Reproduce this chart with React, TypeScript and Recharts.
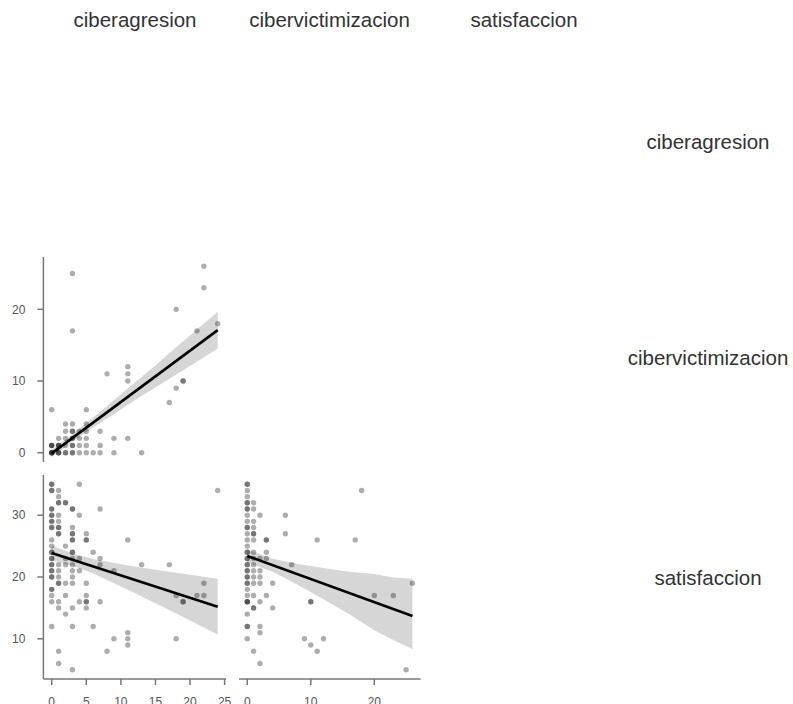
import React from 'react';
import { ComposedChart, Scatter, Line, Area, XAxis, YAxis } from 'recharts';

const FONT = '"Liberation Sans", Arial, Helvetica, sans-serif';

// variable names
const variableNames = ['ciberagresion', 'cibervictimizacion', 'satisfaccion'];

// tick labels
const agresionTicks = [0, 5, 10, 15, 20, 25];
const victimXTicks = [0, 10, 20];
const victimYTicks = [0, 10, 20];
const satisfTicks = [10, 20, 30];

// axis ranges (data range + 5% padding)
const agresionDomain: [number, number] = [-1.2, 25.2];
const victimDomain: [number, number] = [-1.3, 27.3];
const satisfDomain: [number, number] = [3.5, 36.5];

// ciberagresion (x) vs cibervictimizacion (y)
const agrVictPoints: [number, number][] = [
  [0, 0], [0, 0], [0, 0], [0, 0], [1, 0], [1, 0], [1, 0], [2, 0], [2, 0], [3, 0], [3, 0], [4, 0], [5, 0], [6, 0], [7, 0], [9, 0], [13, 0],
  [0, 1], [0, 1], [0, 1], [1, 1], [1, 1], [1, 1], [2, 1], [3, 1], [3, 1], [4, 1], [5, 1], [7, 1],
  [1, 2], [2, 2], [3, 2], [3, 2], [4, 2], [5, 2], [9, 2], [11, 2],
  [2, 3], [3, 3], [3, 3], [4, 3], [5, 3], [7, 3],
  [2, 4], [3, 4], [5, 4],
  [0, 6], [5, 6],
  [3, 17], [3, 25], [8, 11], [11, 10], [11, 11], [11, 12], [17, 7], [18, 9], [19, 10], [19, 10],
  [18, 20], [21, 17], [22, 23], [22, 26], [24, 18],
];
const agrVictBandX = [0, 3, 6, 9, 12, 15, 18, 21, 24];
const agrVictBandLow = [-0.65, 1.55, 3.5, 5.4, 7.3, 9.1, 10.9, 12.7, 14.55];
const agrVictBandHigh = [0.45, 2.55, 4.9, 7.3, 9.75, 12.2, 14.7, 17.2, 19.65];
const agrVictFitX = [0, 24];
const agrVictFitY = [-0.1, 17.1];

// ciberagresion (x) vs satisfaccion (y)
const agrSatPoints: [number, number][] = [
  [0, 35], [0, 35], [0, 34], [0, 34], [0, 31], [0, 31], [0, 30], [0, 30], [0, 29], [0, 29], [0, 28], [0, 28],
  [0, 26], [0, 25], [0, 24], [0, 24], [0, 23], [0, 23], [0, 22], [0, 22], [0, 21], [0, 21], [0, 20], [0, 20],
  [0, 18], [0, 18], [0, 17], [0, 16], [0, 12],
  [1, 34], [1, 33], [1, 32], [1, 32], [1, 30], [1, 29], [1, 28], [1, 28], [1, 27], [1, 27], [1, 22], [1, 21],
  [1, 20], [1, 19], [1, 19], [1, 16], [1, 15], [1, 8], [1, 6],
  [2, 32], [2, 32], [2, 25], [2, 23], [2, 22], [2, 19], [2, 17], [2, 14],
  [3, 31], [3, 31], [3, 28], [3, 27], [3, 27], [3, 26], [3, 26], [3, 24], [3, 24], [3, 23], [3, 22], [3, 21],
  [3, 20], [3, 19], [3, 15], [3, 12], [3, 5],
  [4, 35], [4, 30], [4, 23], [4, 21], [4, 16],
  [5, 27], [5, 26], [5, 26], [5, 19], [5, 17], [5, 16], [5, 16], [5, 15],
  [6, 24], [6, 12],
  [7, 31], [7, 23], [7, 22], [7, 16],
  [8, 8], [9, 21], [9, 10],
  [11, 26], [11, 11], [11, 10], [11, 9],
  [13, 22], [17, 22], [18, 17], [18, 10], [19, 16], [19, 16], [21, 17], [22, 19], [22, 17], [24, 34],
];
const agrSatBandX = [0, 3, 6, 9, 12, 15, 18, 21, 24];
const agrSatBandLow = [22.7, 21.8, 20.55, 19.0, 17.4, 15.76, 14.1, 12.4, 10.7];
const agrSatBandHigh = [25.1, 23.8, 22.9, 22.25, 21.7, 21.16, 20.67, 20.2, 19.7];
const agrSatFitX = [0, 24];
const agrSatFitY = [23.9, 15.2];

// cibervictimizacion (x) vs satisfaccion (y)
const victSatPoints: [number, number][] = [
  [0, 35], [0, 35], [0, 34], [0, 33], [0, 32], [0, 32], [0, 31], [0, 31], [0, 30], [0, 29], [0, 28], [0, 28],
  [0, 27], [0, 26], [0, 25], [0, 24], [0, 24], [0, 23], [0, 23], [0, 22], [0, 22], [0, 21], [0, 21], [0, 20],
  [0, 20], [0, 19], [0, 19], [0, 18], [0, 17], [0, 16], [0, 16], [0, 16], [0, 14], [0, 12], [0, 12], [0, 10],
  [1, 32], [1, 31], [1, 29], [1, 28], [1, 27], [1, 27], [1, 26], [1, 24], [1, 23], [1, 22], [1, 21], [1, 20],
  [1, 19], [1, 17], [1, 15], [1, 15], [1, 8],
  [2, 30], [2, 23], [2, 21], [2, 20], [2, 19], [2, 16], [2, 12], [2, 11], [2, 6],
  [3, 26], [3, 26], [3, 24], [3, 23], [3, 17],
  [4, 19], [4, 15],
  [6, 30], [6, 27], [7, 22],
  [9, 10], [10, 16], [10, 16], [10, 9], [11, 26], [11, 8], [12, 10],
  [17, 26], [18, 34], [20, 17], [23, 17], [25, 5], [26, 19],
];
const victSatBandX = [0, 4, 8, 12, 16, 20, 23, 26];
const victSatBandLow = [22.35, 20.85, 18.7, 16.4, 14.0, 11.4, 9.8, 8.3];
const victSatBandHigh = [24.45, 22.97, 22.1, 21.45, 20.85, 20.5, 19.9, 19.7];
const victSatFitX = [0, 26];
const victSatFitY = [23.4, 13.7];

const AXIS_COLOR = '#777';
const TICK_STYLE = { fontSize: 12, fill: '#555', fontFamily: FONT };

type PanelProps = {
  left: number;
  top: number;
  width: number;
  height: number;
  margin: { top: number; right: number; bottom: number; left: number };
  points: [number, number][];
  bandX: number[];
  bandLow: number[];
  bandHigh: number[];
  fitX: number[];
  fitY: number[];
  xDomain: [number, number];
  yDomain: [number, number];
  xTicks: number[];
  yTicks: number[];
  showX: boolean;
  showY: boolean;
};

const Dot = (p: any) => {
  if (p.cx == null || p.cy == null) return null;
  return <circle cx={p.cx} cy={p.cy} r={2.7} fill="#000" fillOpacity={0.32} />;
};

function Panel(props: PanelProps) {
  const rows = props.bandX.map((x, i) => {
    const fi = props.fitX.indexOf(x);
    return {
      x,
      range: [props.bandLow[i], props.bandHigh[i]],
      fit: fi >= 0 ? props.fitY[fi] : null,
    };
  });
  const pts = props.points.map(([x, y]) => ({ x, y }));
  return (
    <div style={{ position: 'absolute', left: props.left, top: props.top }}>
      <ComposedChart width={props.width} height={props.height} data={rows} margin={props.margin}>
        <XAxis
          type="number"
          dataKey="x"
          domain={props.xDomain}
          allowDataOverflow
          ticks={props.xTicks}
          interval={0}
          hide={!props.showX}
          height={30}
          tickSize={6}
          tickMargin={12}
          axisLine={{ stroke: AXIS_COLOR, strokeWidth: 1.5 }}
          tickLine={{ stroke: AXIS_COLOR, strokeWidth: 1.5 }}
          tick={TICK_STYLE}
        />
        <YAxis
          type="number"
          dataKey="y"
          domain={props.yDomain}
          allowDataOverflow
          ticks={props.yTicks}
          interval={0}
          hide={!props.showY}
          width={43.4}
          tickSize={6}
          tickMargin={12}
          axisLine={{ stroke: AXIS_COLOR, strokeWidth: 1.5 }}
          tickLine={{ stroke: AXIS_COLOR, strokeWidth: 1.5 }}
          tick={TICK_STYLE}
        />
        <Area
          type="linear"
          dataKey="range"
          fill="#999"
          fillOpacity={0.4}
          stroke="none"
          isAnimationActive={false}
        />
        <Scatter data={pts} shape={Dot} isAnimationActive={false} />
        <Line
          type="linear"
          dataKey="fit"
          stroke="#000"
          strokeWidth={2.6}
          dot={false}
          connectNulls
          isAnimationActive={false}
        />
      </ComposedChart>
    </div>
  );
}

export default function App() {
  const headerX = [135, 329.5, 524];
  const rowLabelY = [149, 365, 585];
  return (
    <div
      style={{
        position: 'absolute',
        left: 0,
        top: 0,
        width: 793,
        height: 704,
        overflow: 'hidden',
        background: '#fff',
      }}
    >
      <svg width={793} height={704} style={{ position: 'absolute', left: 0, top: 0 }}>
        {variableNames.map((name, i) => (
          <text
            key={'h' + name}
            x={headerX[i]}
            y={27}
            textAnchor="middle"
            fontFamily={FONT}
            fontSize={20.5}
            fill="#333"
          >
            {name}
          </text>
        ))}
        {variableNames.map((name, i) => (
          <text
            key={'r' + name}
            x={708}
            y={rowLabelY[i]}
            textAnchor="middle"
            fontFamily={FONT}
            fontSize={20.5}
            fill="#333"
          >
            {name}
          </text>
        ))}
      </svg>

      {/* row 2, col 1: ciberagresion vs cibervictimizacion */}
      <Panel
        left={0}
        top={246.7}
        width={236}
        height={225}
        margin={{ top: 10, right: 10, bottom: 10, left: 0 }}
        points={agrVictPoints}
        bandX={agrVictBandX}
        bandLow={agrVictBandLow}
        bandHigh={agrVictBandHigh}
        fitX={agrVictFitX}
        fitY={agrVictFitY}
        xDomain={agresionDomain}
        yDomain={victimDomain}
        xTicks={agresionTicks}
        yTicks={victimYTicks}
        showX={false}
        showY={true}
      />

      {/* row 3, col 1: ciberagresion vs satisfaccion */}
      <Panel
        left={0}
        top={465}
        width={236}
        height={244}
        margin={{ top: 10, right: 10, bottom: 0, left: 0 }}
        points={agrSatPoints}
        bandX={agrSatBandX}
        bandLow={agrSatBandLow}
        bandHigh={agrSatBandHigh}
        fitX={agrSatFitX}
        fitY={agrSatFitY}
        xDomain={agresionDomain}
        yDomain={satisfDomain}
        xTicks={agresionTicks}
        yTicks={satisfTicks}
        showX={true}
        showY={true}
      />

      {/* row 3, col 2: cibervictimizacion vs satisfaccion */}
      <Panel
        left={229}
        top={465}
        width={201.7}
        height={244}
        margin={{ top: 10, right: 10, bottom: 0, left: 10 }}
        points={victSatPoints}
        bandX={victSatBandX}
        bandLow={victSatBandLow}
        bandHigh={victSatBandHigh}
        fitX={victSatFitX}
        fitY={victSatFitY}
        xDomain={victimDomain}
        yDomain={satisfDomain}
        xTicks={victimXTicks}
        yTicks={satisfTicks}
        showX={true}
        showY={false}
      />
    </div>
  );
}
